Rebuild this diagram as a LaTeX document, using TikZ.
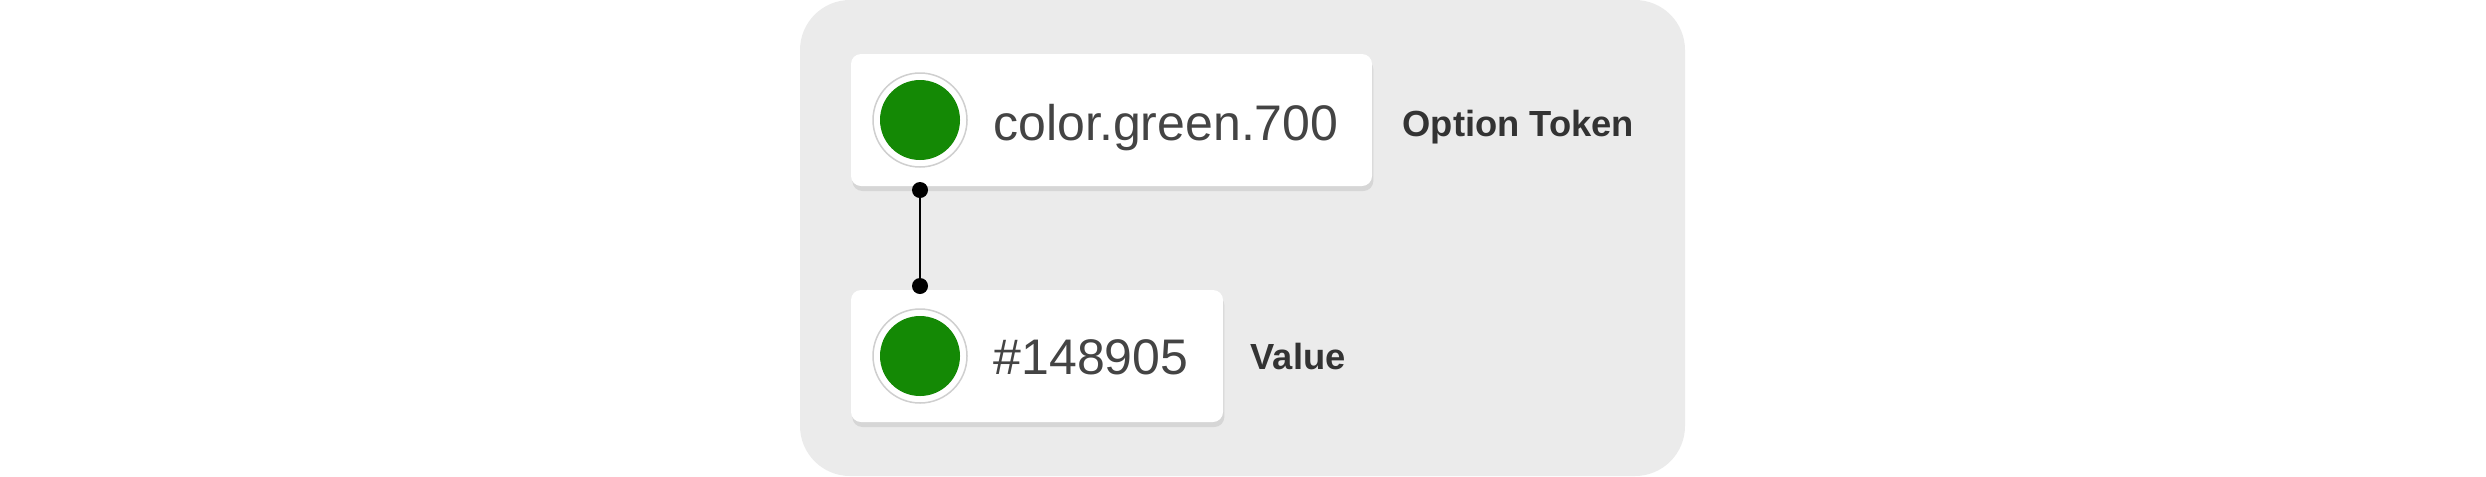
\documentclass[tikz,border=0pt]{standalone}
\usepackage{fontspec}
\setmainfont{Liberation Sans}
\usetikzlibrary{shadows}
\definecolor{bggray}{HTML}{EBEBEB}
\definecolor{swgreen}{HTML}{148905}
\definecolor{ringgray}{HTML}{CFCFCF}
\definecolor{txtgray}{HTML}{444444}
\definecolor{lblgray}{HTML}{333333}
\definecolor{shgray}{HTML}{D6D6D6}
\tikzset{
  card/.style={fill=white, rounded corners=3pt, minimum height=39.6pt, inner sep=0pt,
    drop shadow={shadow xshift=0.4pt, shadow yshift=-1.5pt, fill=shgray, opacity=1}},
  ring/.style={circle, fill=white, draw=ringgray, line width=0.45pt, minimum size=28.2pt, inner sep=0pt},
  swatch/.style={circle, fill=swgreen, minimum size=24pt, inner sep=0pt},
  tokentext/.style={anchor=base west, inner sep=0pt, text=txtgray, font=\fontsize{15}{18}\selectfont},
  label/.style={anchor=base west, inner sep=0pt, text=lblgray, font=\fontsize{10.9}{13}\selectfont\bfseries},
  dotnode/.style={circle, fill=black, minimum size=4.8pt, inner sep=0pt},
  conn/.style={draw=black, line width=0.7pt}
}
\begin{document}
\begin{tikzpicture}[x=0.3pt, y=-0.3pt]
\useasboundingbox (0,0) rectangle (2486,476);
\fill[bggray, rounded corners=15pt] (800,0) rectangle (1685,476);
% cards
\node[card, minimum width=156.3pt] (card1) at (1111.5,120) {};
\node[card, minimum width=111.6pt] (card2) at (1037,356) {};
% swatches
\node[ring] (ring1) at (920,120) {};
\node[swatch] (sw1) at (920,120) {};
\node[ring] (ring2) at (920,356) {};
\node[swatch] (sw2) at (920,356) {};
% texts
\node[tokentext] (t1) at (993,140) {color.green.700};
\node[tokentext] (t2) at (993,374) {\#148905};
\node[label] (l1) at (1402,136) {Option Token};
\node[label] (l2) at (1250,369) {Value};
% connector
\node[dotnode] (d1) at (920,190) {};
\node[dotnode] (d2) at (920,286) {};
\draw[conn] (d1.center) -- (d2.center);
\end{tikzpicture}
\end{document}
